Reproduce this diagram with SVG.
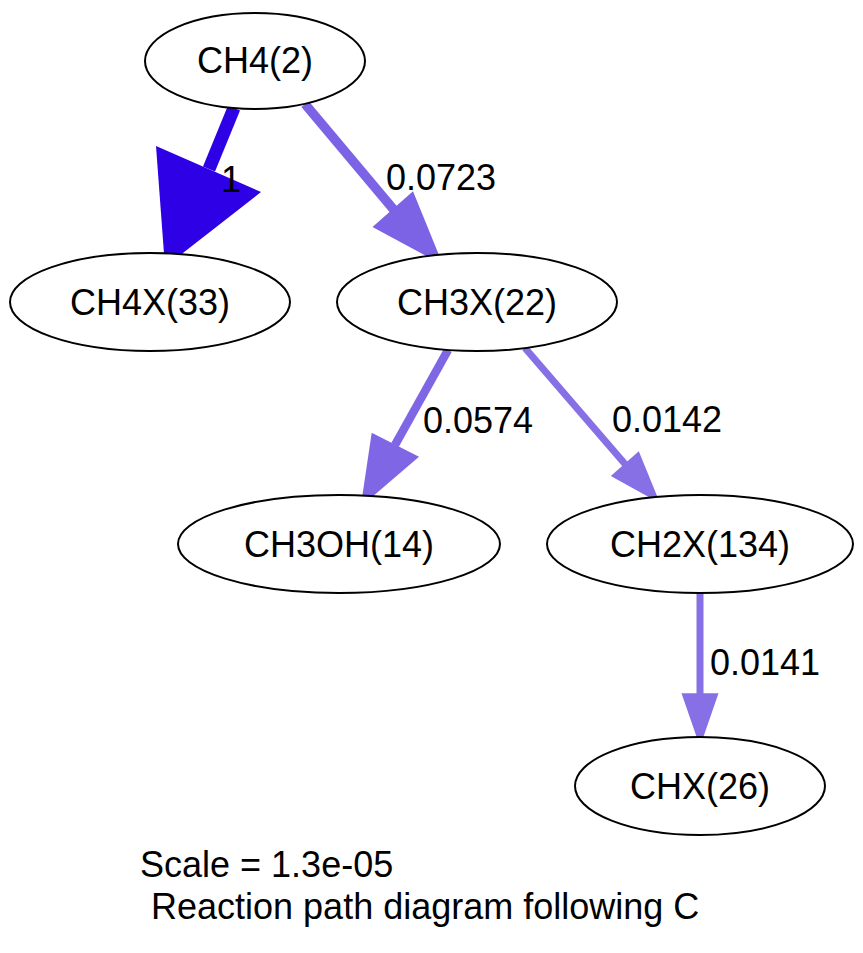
<svg xmlns="http://www.w3.org/2000/svg" width="863" height="953" viewBox="0 0 863 953">
<style>
.node ellipse{fill:#ffffff;stroke:#000000;stroke-width:2}
text{font-family:"Liberation Sans",Arial,Helvetica,sans-serif;font-size:36px;fill:#000000}
.node text{text-anchor:middle}
.e line{fill:none}
</style>
<rect width="863" height="953" fill="#ffffff"/>
<g id="edges">
  <g class="e" id="e1">
    <line x1="234" y1="108" x2="209" y2="169" stroke="#2E00E5" stroke-width="13"/>
    <polygon points="156,146 165,267 261,192" fill="#2E00E5"/>
    <text x="221" y="192">1</text>
  </g>
  <g class="e" id="e2">
    <line x1="305" y1="104" x2="394" y2="210" stroke="#7C62E5" stroke-width="9.5"/>
    <polygon points="372.5,227 443,265 413,191.3" fill="#7C62E5"/>
    <text x="386" y="190">0.0723</text>
  </g>
  <g class="e" id="e3">
    <line x1="448" y1="350" x2="395" y2="445" stroke="#7F66E5" stroke-width="8.5"/>
    <polygon points="371.7,432.7 360.7,506.7 419,456.7" fill="#7F66E5"/>
    <text x="423" y="433">0.0574</text>
  </g>
  <g class="e" id="e4">
    <line x1="525" y1="348" x2="625" y2="464" stroke="#876FE5" stroke-width="7"/>
    <polygon points="610.8,476.1 660,503.3 638.8,451.3" fill="#876FE5"/>
    <text x="612" y="432">0.0142</text>
  </g>
  <g class="e" id="e5">
    <line x1="700" y1="593" x2="700" y2="694" stroke="#876FE5" stroke-width="7"/>
    <polygon points="681.5,693.3 700,746.7 718.5,693.3" fill="#876FE5"/>
    <text x="710" y="675">0.0141</text>
  </g>
</g>
<g id="CH4_2" class="node"><ellipse cx="255" cy="61" rx="110" ry="48"/><text x="255" y="73">CH4(2)</text></g>
<g id="CH4X_33" class="node"><ellipse cx="150" cy="302" rx="140" ry="49"/><text x="150" y="315">CH4X(33)</text></g>
<g id="CH3X_22" class="node"><ellipse cx="477" cy="302" rx="140" ry="49"/><text x="477" y="315">CH3X(22)</text></g>
<g id="CH3OH_14" class="node"><ellipse cx="339" cy="544" rx="161" ry="49"/><text x="339" y="557">CH3OH(14)</text></g>
<g id="CH2X_134" class="node"><ellipse cx="700" cy="544" rx="153" ry="49"/><text x="700" y="557">CH2X(134)</text></g>
<g id="CHX_26" class="node"><ellipse cx="700" cy="786" rx="125" ry="49"/><text x="700" y="799">CHX(26)</text></g>
<g id="title">
  <text x="140" y="877">Scale = 1.3e-05</text>
  <text x="151" y="919">Reaction path diagram following C</text>
</g>
</svg>
